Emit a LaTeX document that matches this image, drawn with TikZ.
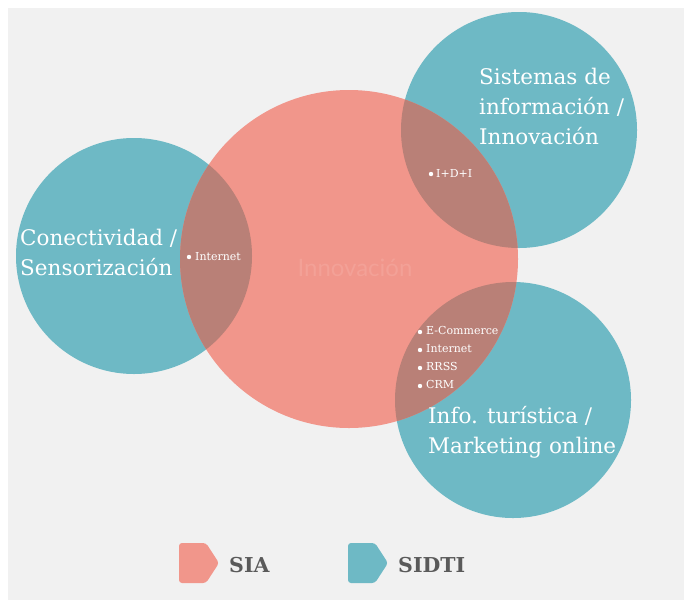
\documentclass[tikz,border=0pt]{standalone}
\usepackage{fontspec}
\setmainfont{DejaVu Serif}
\newfontfamily\thinfont{Lato}
\usepackage{tikz}
\usetikzlibrary{positioning}

\definecolor{salmon}{HTML}{F1968B}
\definecolor{teal}{HTML}{6EB9C5}
\definecolor{overlap}{HTML}{B98077}
\definecolor{bgray}{HTML}{F1F1F1}
\definecolor{legtext}{HTML}{5A5A5A}
\definecolor{faint}{HTML}{F3A197}

\tikzset{
    area/.style={text=white, font=\fontsize{21.5}{30}\selectfont, align=left, anchor=base west, inner sep=0},
    item/.style={text=white, font=\fontsize{11}{12}\selectfont, anchor=base west, inner sep=0},
    legend/.style={text=legtext, font=\bfseries\fontsize{20.5}{24}\selectfont, anchor=base west, inner sep=0},
}

\begin{document}
\begin{tikzpicture}[x=1pt, y=-1pt]
                    \useasboundingbox (0,0) rectangle (684,600);
                    % Background
                    \fill[bgray] (8,8) rectangle (684,600);
                    % Circles
                    \fill[teal] (134,256) circle (118);
                    \fill[teal] (519,130) circle (118);
                    \fill[teal] (513,400) circle (118);
                    \fill[salmon] (349,259) circle (169);
                    % Overlaps
                    \begin{scope}
                        \clip (349,259) circle (169);
                        \fill[overlap] (134,256) circle (118);
                        \fill[overlap] (519,130) circle (118);
                        \fill[overlap] (513,400) circle (118);
                    \end{scope}
                    % Centre label
                    \node[text=faint, font=\thinfont\fontsize{24}{28}\selectfont] (innov) at (355,268) {Innovación};
                    % Area labels (anchored on the last line)
                    \node[area] (conect) at (20,275) {Conectividad /\\Sensorización};
                    \node[area] (sistemas) at (479,144) {Sistemas de\\información /\\Innovación};
                    \node[area] (turismo) at (428,453) {Info. turística /\\Marketing online};
                    % Bullets
                    \fill[white] (189,257) circle (2.2);
                    \node[item] (internet1) at (195,260) {Internet};
                    \fill[white] (431,174) circle (2.2);
                    \node[item] (idi) at (436,177) {I+D+I};
                    \fill[white] (420,332) circle (2.2);
                    \node[item] (ecom) at (426,334) {E-Commerce};
                    \fill[white] (420,350) circle (2.2);
                    \node[item] (internet2) at (426,352) {Internet};
                    \fill[white] (420,368) circle (2.2);
                    \node[item] (rrss) at (426,370) {RRSS};
                    \fill[white] (420,386) circle (2.2);
                    \node[item] (crm) at (426,388) {CRM};
                    % Legend
                    \fill[salmon, rounded corners=3] (179,543) -- (206,543) -- (219,563) -- (206,583) -- (179,583) -- cycle;
                    \node[legend] (sia) at (229,572) {SIA};
                    \fill[teal, rounded corners=3] (348,543) -- (375,543) -- (388,563) -- (375,583) -- (348,583) -- cycle;
                    \node[legend] (sidti) at (398,572) {SIDTI};
                \end{tikzpicture}
\end{document}
